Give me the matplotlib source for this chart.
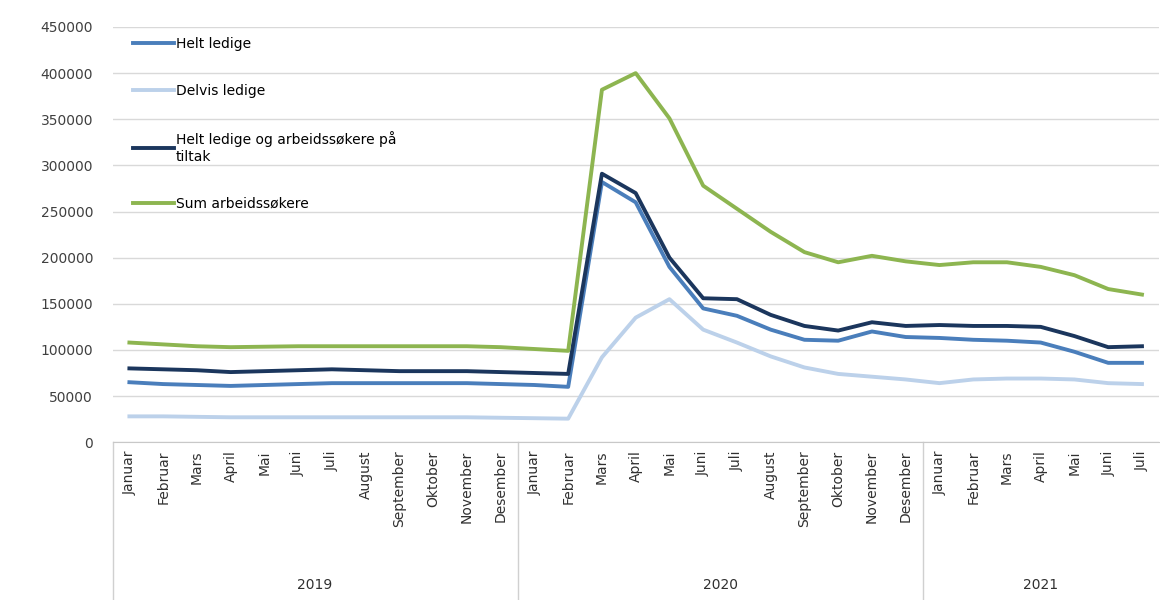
import matplotlib
matplotlib.use('Agg')
import matplotlib.pyplot as plt
import matplotlib.transforms as mtransforms
import numpy as np

months = ['Januar', 'Februar', 'Mars', 'April', 'Mai', 'Juni', 'Juli', 'August',
          'September', 'Oktober', 'November', 'Desember']
years = ['2019', '2020', '2021']
month_labels = months + months + months[:7]

helt_ledige = [65000, 63000, 62000, 61000, 62000, 63000, 64000, 64000, 64000, 64000, 64000, 63000,
               62000, 60000, 282000, 260000, 190000, 145000, 137000, 122000, 111000, 110000, 120000, 114000,
               113000, 111000, 110000, 108000, 98000, 86000, 86000]
delvis_ledige = [28000, 28000, 27500, 27000, 27000, 27000, 27000, 27000, 27000, 27000, 27000, 26500,
                 26000, 25500, 92000, 135000, 155000, 122000, 108000, 93000, 81000, 74000, 71000, 68000,
                 64000, 68000, 69000, 69000, 68000, 64000, 63000]
helt_tiltak = [80000, 79000, 78000, 76000, 77000, 78000, 79000, 78000, 77000, 77000, 77000, 76000,
               75000, 74000, 291000, 270000, 200000, 156000, 155000, 138000, 126000, 121000, 130000, 126000,
               127000, 126000, 126000, 125000, 115000, 103000, 104000]
sum_arbeidssokere = [108000, 106000, 104000, 103000, 103500, 104000, 104000, 104000, 104000, 104000, 104000, 103000,
                     101000, 99000, 382000, 400000, 351000, 278000, 253000, 228000, 206000, 195000, 202000, 196000,
                     192000, 195000, 195000, 190000, 181000, 166000, 160000]

series = [
    ('Helt ledige', helt_ledige, '#4a7ebb'),
    ('Delvis ledige', delvis_ledige, '#bcd1ea'),
    ('Helt ledige og arbeidssøkere på\ntiltak', helt_tiltak, '#1b365d'),
    ('Sum arbeidssøkere', sum_arbeidssokere, '#8db550'),
]

fig = plt.figure(figsize=(11.6, 6), dpi=100)
ax = fig.add_axes([0.097, 0.263, 0.902, 0.692])

x = np.arange(len(month_labels))
for label, vals, col in series:
    ax.plot(x, vals, color=col, linewidth=2.8, label=label, solid_joinstyle='round')

ax.set_xlim(-0.5, len(month_labels) - 0.5)
ax.set_ylim(0, 450000)
ax.set_yticks(np.arange(0, 450001, 50000))
ax.set_yticklabels([str(v) for v in range(0, 450001, 50000)], fontsize=10, color='#404040')
ax.yaxis.grid(True, color='#d9d9d9', linewidth=1)
ax.set_axisbelow(True)
ax.tick_params(axis='y', length=0, pad=14)

ax.set_xticks(x)
ax.set_xticklabels(month_labels, rotation=90, fontsize=10, color='#303030', va='top')
ax.tick_params(axis='x', length=0, pad=6)

for s in ['top', 'right', 'left']:
    ax.spines[s].set_visible(False)
ax.spines['bottom'].set_color('#c8c8c8')

trans = mtransforms.blended_transform_factory(ax.transData, ax.transAxes)
bounds = [-0.5, 11.5, 23.5, len(month_labels) - 0.5]
for b in bounds[:-1]:
    ax.plot([b, b], [0, -0.38], transform=trans, color='#d0d0d0', linewidth=1, clip_on=False)
for i, yr in enumerate(years):
    ax.text((bounds[i] + bounds[i + 1]) / 2, -0.345, yr, transform=trans,
            ha='center', va='center', fontsize=10, color='#303030')

ax.legend(loc='upper left', bbox_to_anchor=(0.01, 1.0), frameon=False, fontsize=10,
          labelspacing=2.4, handlelength=3, handletextpad=0.1, borderaxespad=0.3)

fig.savefig('out.png', dpi=100)
